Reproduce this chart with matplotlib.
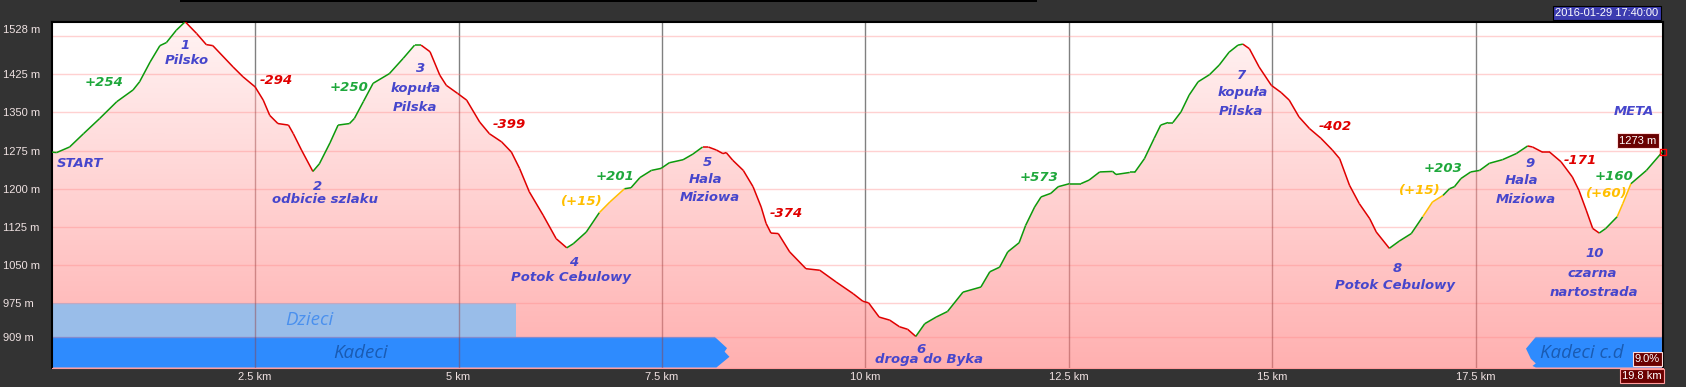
import numpy as np
import matplotlib
matplotlib.use("Agg")
import matplotlib.pyplot as plt
from matplotlib.collections import LineCollection
from matplotlib.patches import Polygon, Rectangle

# elevation profile (km, m)
dist_km = [0.00, 0.06, 0.22, 0.39, 0.59, 0.80, 1.00, 1.08, 1.21, 1.33, 1.41, 1.53, 1.64,
           1.78, 1.90, 1.98, 2.23, 2.35, 2.50, 2.60, 2.68, 2.78, 2.91, 2.97, 3.07, 3.21,
           3.29, 3.42, 3.52, 3.66, 3.72, 3.83, 3.95, 4.15, 4.32, 4.46, 4.54,
           4.65, 4.77, 4.85, 4.99, 5.10, 5.26, 5.38, 5.53, 5.65, 5.75, 5.87, 6.04, 6.20, 6.33,
           6.41, 6.57, 6.73, 6.86, 7.04, 7.12, 7.23, 7.37, 7.49, 7.59, 7.76, 7.88, 8.00, 8.07,
           8.17, 8.25, 8.29, 8.37, 8.50, 8.62, 8.72, 8.78, 8.84, 8.93, 9.07, 9.27, 9.44, 9.64,
           9.85, 9.97, 10.04, 10.17, 10.30, 10.42, 10.52, 10.62,
           10.73, 10.87, 11.01, 11.20, 11.42, 11.53, 11.65, 11.75, 11.89, 11.97, 12.08, 12.16,
           12.28, 12.37, 12.51, 12.65, 12.75, 12.88, 13.04, 13.08, 13.25, 13.31, 13.43, 13.55,
           13.63, 13.72, 13.78, 13.88, 13.98, 14.09, 14.23, 14.35, 14.47, 14.58, 14.64,
           14.72, 14.84, 14.99, 15.11, 15.21, 15.33, 15.46, 15.60, 15.74, 15.83, 15.95, 16.07,
           16.20, 16.28, 16.44,
           16.56, 16.71, 16.85, 16.97, 17.10, 17.18, 17.24, 17.32, 17.44, 17.55, 17.67, 17.83,
           18.00, 18.14,
           18.20, 18.32, 18.41, 18.55, 18.69, 18.77, 18.86, 18.94, 19.02,
           19.10, 19.24, 19.31, 19.41, 19.60, 19.80]
elev_m = [1272, 1271, 1282, 1308, 1338, 1371, 1394, 1410, 1449, 1481, 1487, 1511, 1528,
          1505, 1483, 1481, 1439, 1420, 1400, 1374, 1344, 1328, 1325, 1308, 1276, 1234,
          1249, 1290, 1325, 1328, 1338, 1371, 1407, 1426, 1456, 1482, 1482,
          1469, 1423, 1403, 1387, 1374, 1331, 1308, 1292, 1272, 1240, 1194, 1148, 1102, 1084,
          1092, 1115, 1153, 1174, 1200, 1202, 1222, 1236, 1240, 1251, 1257, 1268, 1282, 1282,
          1276, 1269, 1271, 1256, 1236, 1204, 1164, 1132, 1113, 1112, 1076, 1043, 1040, 1017,
          994, 979, 976, 948, 942, 929, 924, 910,
          935, 948, 959, 997, 1007, 1037, 1046, 1076, 1094, 1128, 1164, 1184,
          1191, 1204, 1210, 1210, 1217, 1233, 1234, 1228, 1232, 1232, 1259, 1299,
          1325, 1330, 1330, 1351, 1384, 1410, 1424, 1443, 1468, 1482, 1484,
          1475, 1439, 1403, 1389, 1374, 1341, 1318, 1299, 1276, 1259, 1207, 1171,
          1141, 1115, 1083,
          1097, 1112, 1145, 1174, 1187, 1200, 1204, 1220, 1233, 1236, 1250, 1257,
          1269, 1284,
          1282, 1272, 1272, 1253, 1223, 1197, 1158, 1122, 1113,
          1122, 1145, 1171, 1210, 1236, 1273]

# climb / descent sections (start km, end km, kind)
sections = [(0.0, 1.64, 'up'), (1.64, 3.21, 'down'), (3.21, 4.54, 'up'), (4.54, 6.33, 'down'),
            (6.33, 8.0, 'up'), (8.0, 10.62, 'down'), (10.62, 14.64, 'up'), (14.64, 16.44, 'down'),
            (16.44, 18.14, 'up'), (18.14, 19.02, 'down'), (19.02, 19.8, 'up')]
easy_parts = [(6.79, 7.04), (16.9, 17.1), (19.27, 19.42)]

grid_levels = [1500, 1425, 1350, 1275, 1200, 1125, 1050, 975, 909]
ytick_pos = [1514, 1425, 1350, 1275, 1200, 1125, 1050, 975, 909]
ytick_lab = ['1528 m', '1425 m', '1350 m', '1275 m', '1200 m', '1125 m', '1050 m', '975 m', '909 m']
xtick_pos = [2.5, 5, 7.5, 10, 12.5, 15, 17.5]
xtick_lab = ['2.5 km', '5 km', '7.5 km', '10 km', '12.5 km', '15 km', '17.5 km']

# waypoint labels: (km, m, text)
points = [(0.35, 1250, 'START'), (1.645, 1482, '1'), (1.66, 1452, 'Pilsko'),
          (3.27, 1205, '2'), (3.36, 1179, 'odbicie szlaku'),
          (4.54, 1437, '3'), (4.48, 1397, 'kopuła'), (4.46, 1360, 'Pilska'),
          (6.41, 1056, '4'), (6.38, 1025, 'Potok Cebulowy'),
          (8.06, 1251, '5'), (8.04, 1219, 'Hala'), (8.09, 1183, 'Miziowa'),
          (10.68, 884, '6'), (10.78, 864, 'droga do Byka'),
          (14.62, 1423, '7'), (14.64, 1388, 'kopuła'), (14.62, 1351, 'Pilska'),
          (16.54, 1044, '8'), (16.51, 1010, 'Potok Cebulowy'),
          (18.17, 1250, '9'), (18.07, 1217, 'Hala'), (18.12, 1179, 'Miziowa'),
          (18.97, 1073, '10'), (18.94, 1033, 'czarna'), (18.96, 996, 'nartostrada'),
          (19.45, 1352, 'META')]
gains = [(0.64, 1408, '+254'), (2.76, 1413, '-294'), (3.66, 1398, '+250'), (5.63, 1327, '-399'),
         (6.51, 1174, '(+15)'), (6.92, 1225, '+201'), (9.03, 1151, '-374'), (12.14, 1222, '+573'),
         (15.78, 1323, '-402'), (16.81, 1196, '(+15)'), (17.10, 1240, '+203'),
         (18.79, 1256, '-171'), (19.20, 1225, '+160'), (19.11, 1191, '(+60)')]

GREEN = '#0c9a0c'
RED = '#e00000'
YELLOW = '#ffbf00'
W, H = 1686, 387

fig = plt.figure(figsize=(W / 100, H / 100), dpi=100, facecolor='#333333')
ax = fig.add_axes([51.7 / W, 19 / H, 1611 / W, 346.3 / H])
ax.set_facecolor('white')
ymin, ymax = 848, 1528
xmax = 19.8

km = np.array(dist_km)
el = np.array(elev_m)

# gradient fill under the profile
poly = Polygon(np.column_stack([np.r_[km[0], km, km[-1]], np.r_[ymin, el, ymin]]),
               closed=True, facecolor='none', edgecolor='none')
ax.add_patch(poly)
top_c = np.array([255, 244, 244]) / 255
bot_c = np.array([255, 176, 176]) / 255
t = np.linspace(0, 1, 256)[:, None]
grad = (top_c * (1 - t) + bot_c * t)[:, None, :]
img = ax.imshow(grad, extent=[0, xmax, ymin, ymax], aspect='auto', origin='upper', zorder=1)
img.set_clip_path(poly)

# group bands
ax.add_patch(Rectangle((0, 909), 5.71, 66, facecolor='#99bde9', edgecolor='none', zorder=2))
ax.add_patch(Polygon([(0, 909), (8.15, 909), (8.30, 887), (8.27, 880), (8.33, 870),
                      (8.17, 849), (0, 849)], facecolor='#2e8bfe', edgecolor='none', zorder=2))
ax.add_patch(Polygon([(18.24, 909), (19.79, 909), (19.79, 849), (18.24, 849), (18.20, 852),
                      (18.24, 857), (18.18, 866), (18.12, 886)],
                     facecolor='#2e8bfe', edgecolor='none', zorder=2))
band_font = dict(fontsize=13.5, style='italic', family='Open Sans', ha='center', va='center', zorder=3)
ax.text(3.17, 942, 'Dzieci', color='#4a90ee', **band_font)
ax.text(3.79, 877, 'Kadeci', color='#1a5bb2', **band_font)
ax.text(18.81, 878, 'Kadeci c.d', color='#1a5bb2', **band_font)

# grid
for g in grid_levels:
    ax.axhline(g, color='#ff8c8c', alpha=0.4, lw=1, zorder=2.5)
for xv in xtick_pos:
    ax.axvline(xv, color='#808080', lw=1, zorder=0.5)
    ln = ax.axvline(xv, color='#963c3c', alpha=0.45, lw=1, zorder=2.6)
    ln.set_clip_path(poly)

# profile line coloured by section
segs, cols = [], []
for i in range(len(km) - 1):
    mid = (km[i] + km[i + 1]) / 2
    c = GREEN
    for a, b, kind in sections:
        if a <= mid < b:
            c = GREEN if kind == 'up' else RED
    for a, b in easy_parts:
        if a <= mid < b:
            c = YELLOW
    segs.append([(km[i], el[i]), (km[i + 1], el[i + 1])])
    cols.append(c)
ax.add_collection(LineCollection(segs, colors=cols, linewidths=1.1, zorder=4))
ax.plot(km[-1], el[-1], marker='s', mfc='none', mec='red', ms=5, mew=1, clip_on=False, zorder=5)

lab_font = dict(family='DejaVu Sans', fontsize=9.5, fontweight='bold', style='italic',
                ha='center', va='center', zorder=6)
for x, y, s in points:
    ax.text(x, y, s, color='#4646cc', **lab_font)
for x, y, s in gains:
    c = RED if s.startswith('-') else (YELLOW if s.startswith('(') else '#1fa83c')
    ax.text(x, y, s, color=c, **lab_font)

ax.set_xlim(0, xmax)
ax.set_ylim(ymin, ymax)
ax.set_xticks(xtick_pos)
ax.set_xticklabels(xtick_lab)
ax.set_yticks(ytick_pos)
ax.set_yticklabels(ytick_lab)
ax.tick_params(length=0, labelsize=8, colors='#efe2e2')
ax.tick_params(axis='x', pad=3)
ax.tick_params(axis='y', pad=35)
for lb in ax.get_yticklabels():
    lb.set_horizontalalignment('left')
    lb.set_family('Liberation Sans')
for lb in ax.get_xticklabels():
    lb.set_family('Liberation Sans')
for side in ['top', 'left', 'right']:
    ax.spines[side].set_color('black')
    ax.spines[side].set_linewidth(1.5)
ax.spines['bottom'].set_color('#ff9c9c')

# overlay boxes
def box(xc, yc, s, fc, ec):
    fig.text(xc / W, 1 - yc / H, s, color='white', fontsize=8, family='Liberation Sans',
             ha='center', va='center',
             bbox=dict(boxstyle='square,pad=0.2', facecolor=fc, edgecolor=ec, linewidth=0.8))

box(1607, 12.8, '2016-01-29 17:40:00', '#3c3cb0', 'black')
box(1638, 140.5, '1273 m', '#6a0000', '#ffdede')
box(1647.5, 359, '9.0%', '#6a0000', '#ffdede')
box(1642, 376, '19.8 km', '#6a0000', '#ff9c9c')
fig.add_artist(Rectangle((180 / W, 1 - 2 / H), 857 / W, 2 / H, transform=fig.transFigure,
                         facecolor='black', edgecolor='none'))

fig.savefig('out.png', dpi=100, facecolor=fig.get_facecolor())
